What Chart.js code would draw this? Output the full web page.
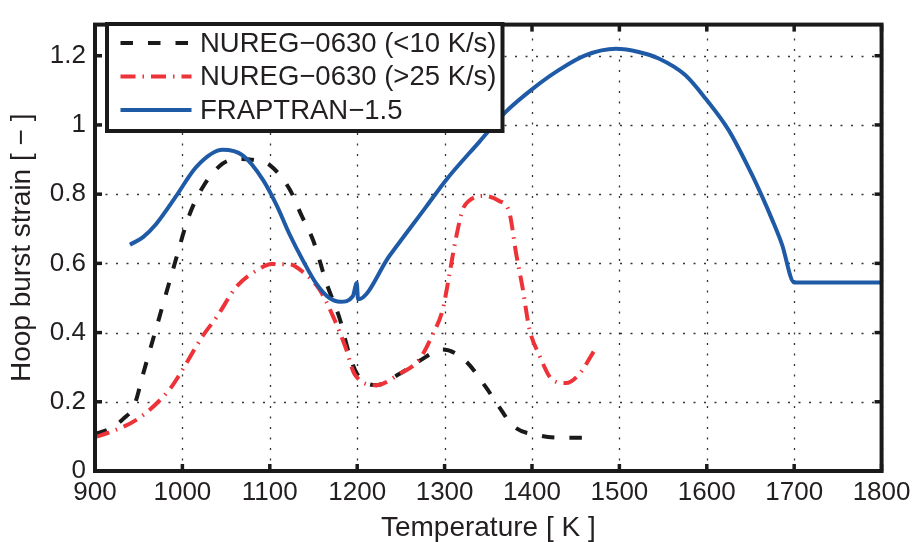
<!DOCTYPE html>
<html>
<head>
<meta charset="utf-8">
<script src="https://cdn.jsdelivr.net/npm/chart.js@4.4.1/dist/chart.umd.min.js"></script>
<style>
  html, body { margin: 0; padding: 0; background: #fff; }
  #wrap { width: 917px; height: 542px; }
</style>
</head>
<body>
<div id="wrap"><canvas id="c" width="917" height="542"></canvas></div>
<script>
// Burst strain correlations versus cladding temperature
const seriesNames = ['NUREG\u22120630 (<10 K/s)', 'NUREG\u22120630 (>25 K/s)', 'FRAPTRAN\u22121.5'];

// NUREG-0630, slow heating rate
const slowTemps  = [900, 917, 932, 945, 955, 972, 989, 1008, 1024, 1046, 1066, 1085, 1100, 1123, 1136, 1150, 1165, 1180, 1191, 1200, 1222, 1248, 1271, 1298, 1324, 1347, 1362, 1378, 1408, 1439, 1473];
const slowStrain = [0.107, 0.122, 0.15, 0.19, 0.28, 0.43, 0.58, 0.74, 0.823, 0.888, 0.902, 0.897, 0.884, 0.813, 0.74, 0.664, 0.542, 0.44, 0.337, 0.28, 0.248, 0.28, 0.318, 0.351, 0.318, 0.243, 0.187, 0.131, 0.103, 0.096, 0.096];

// NUREG-0630, fast heating rate
const fastTemps  = [900, 917, 951, 986, 997, 1024, 1039, 1062, 1088, 1102, 1123, 1138, 1157, 1172, 1187, 1197, 1222, 1248, 1271, 1286, 1298, 1305, 1313, 1321, 1328, 1344, 1362, 1374, 1382, 1389, 1397, 1408, 1424, 1439, 1454, 1473];
const fastStrain = [0.098, 0.112, 0.154, 0.238, 0.28, 0.393, 0.444, 0.533, 0.584, 0.598, 0.597, 0.575, 0.524, 0.449, 0.355, 0.28, 0.248, 0.28, 0.322, 0.393, 0.468, 0.561, 0.673, 0.757, 0.781, 0.795, 0.781, 0.748, 0.626, 0.533, 0.411, 0.337, 0.262, 0.254, 0.28, 0.355];

// FRAPTRAN-1.5 model
const frapTemps  = [940, 955, 970, 993, 1016, 1046, 1069, 1092, 1108, 1123, 1138, 1153, 1168, 1181, 1195, 1199.5, 1201, 1237, 1279, 1302, 1340, 1370, 1400, 1431, 1461, 1496, 1522, 1545, 1575, 1599, 1625, 1650, 1663, 1675, 1686, 1700, 1800];
const frapStrain = [0.654, 0.676, 0.714, 0.795, 0.879, 0.928, 0.912, 0.842, 0.767, 0.682, 0.608, 0.542, 0.5, 0.489, 0.505, 0.543, 0.496, 0.622, 0.764, 0.842, 0.952, 1.038, 1.103, 1.159, 1.201, 1.22, 1.211, 1.192, 1.145, 1.075, 0.985, 0.865, 0.795, 0.725, 0.655, 0.545, 0.545];

// Axis ticks
const xTickValues = [900, 1000, 1100, 1200, 1300, 1400, 1500, 1600, 1700, 1800];
const xTickLabels = ['900', '1000', '1100', '1200', '1300', '1400', '1500', '1600', '1700', '1800'];
const yTickValues = [0, 0.2, 0.4, 0.6, 0.8, 1.0, 1.2];
const yTickLabels = ['0', '0.2', '0.4', '0.6', '0.8', '1', '1.2'];

const toPoints = (xs, ys) => xs.map((x, i) => ({ x: x, y: ys[i] }));

const TEXT = '#231f20';
const FONT = 'Liberation Sans, Arial, Helvetica, sans-serif';

// Dotted grid, boxed frame with inward ticks, and an in-axes legend
const framePlugin = {
  id: 'framePlugin',
  beforeDatasetsDraw(chart) {
    const { ctx, chartArea: a, scales: { x, y } } = chart;
    ctx.save();
    ctx.strokeStyle = '#333';
    ctx.lineWidth = 1.3;
    ctx.setLineDash([2, 8.5]);
    x.ticks.forEach(t => {
      const px = Math.round(x.getPixelForValue(t.value)) + 0.5;
      ctx.beginPath(); ctx.moveTo(px, a.bottom); ctx.lineTo(px, a.top); ctx.stroke();
    });
    y.ticks.forEach(t => {
      const py = Math.round(y.getPixelForValue(t.value)) + 0.5;
      ctx.beginPath(); ctx.moveTo(a.left, py); ctx.lineTo(a.right, py); ctx.stroke();
    });
    ctx.restore();
  },
  afterDatasetsDraw(chart) {
    const { ctx, chartArea: a, scales: { x, y } } = chart;
    ctx.save();
    ctx.setLineDash([]);
    ctx.strokeStyle = '#1a1a1a';
    // inward tick marks
    ctx.lineWidth = 3.5;
    const tl = 7;
    x.ticks.forEach(t => {
      const px = x.getPixelForValue(t.value);
      ctx.beginPath(); ctx.moveTo(px, a.bottom); ctx.lineTo(px, a.bottom - tl); ctx.stroke();
      ctx.beginPath(); ctx.moveTo(px, a.top); ctx.lineTo(px, a.top + tl); ctx.stroke();
    });
    y.ticks.forEach(t => {
      const py = y.getPixelForValue(t.value);
      ctx.beginPath(); ctx.moveTo(a.left, py); ctx.lineTo(a.left + tl, py); ctx.stroke();
      ctx.beginPath(); ctx.moveTo(a.right, py); ctx.lineTo(a.right - tl, py); ctx.stroke();
    });
    // axes box
    ctx.lineWidth = 4;
    ctx.strokeRect(a.left, a.top, a.right - a.left, a.bottom - a.top);

    // legend
    const box = { l: 107, t: 24, r: 502.5, b: 131 };
    ctx.fillStyle = '#fff';
    ctx.fillRect(box.l, box.t, box.r - box.l, box.b - box.t);
    ctx.lineWidth = 4;
    ctx.strokeStyle = '#1a1a1a';
    ctx.strokeRect(box.l, box.t, box.r - box.l, box.b - box.t);
    const rows = [43, 76.5, 110];
    ctx.font = '27.5px ' + FONT;
    ctx.textBaseline = 'middle';
    ctx.textAlign = 'left';
    chart.data.datasets.forEach((ds, i) => {
      const yy = rows[i];
      ctx.strokeStyle = ds.borderColor;
      ctx.lineWidth = ds.borderWidth;
      ctx.setLineDash(ds.borderDash || []);
      ctx.beginPath(); ctx.moveTo(120.5, yy); ctx.lineTo(191.5, yy); ctx.stroke();
      ctx.setLineDash([]);
      ctx.fillStyle = TEXT;
      ctx.fillText(ds.label, 200, yy + 1);
    });
    ctx.restore();
  }
};

new Chart(document.getElementById('c'), {
  type: 'line',
  data: {
    datasets: [
      {
        label: seriesNames[0],
        data: toPoints(slowTemps, slowStrain),
        borderColor: '#1a1a1a',
        borderWidth: 4,
        borderDash: [12.5, 15],
        order: 3
      },
      {
        label: seriesNames[1],
        data: toPoints(fastTemps, fastStrain),
        borderColor: '#ee3338',
        borderWidth: 4,
        borderDash: [15, 7, 1.5, 7],
        order: 2
      },
      {
        label: seriesNames[2],
        data: toPoints(frapTemps, frapStrain),
        borderColor: '#1f5aa6',
        borderWidth: 4,
        order: 1
      }
    ]
  },
  options: {
    responsive: false,
    animation: false,
    devicePixelRatio: 1,
    layout: { padding: { top: 11, right: 33, left: 0, bottom: 0 } },
    elements: {
      point: { radius: 0, hoverRadius: 0 },
      line: { fill: false, cubicInterpolationMode: 'monotone', borderCapStyle: 'butt', borderJoinStyle: 'round' }
    },
    plugins: { legend: { display: false }, tooltip: { enabled: false } },
    scales: {
      x: {
        type: 'linear',
        min: 900,
        max: 1800,
        afterBuildTicks: s => { s.ticks = xTickValues.map(v => ({ value: v })); },
        afterFit: s => { s.height = 71; },
        grid: { display: false, drawTicks: false },
        border: { display: false },
        ticks: {
          padding: 6.5,
          color: TEXT,
          font: { family: FONT, size: 26, lineHeight: 1.2 },
          maxRotation: 0,
          autoSkip: false,
          callback: (v, i) => xTickLabels[i]
        },
        title: {
          display: true,
          text: 'Temperature [ K ]',
          color: TEXT,
          font: { family: FONT, size: 28, lineHeight: 1.0 },
          padding: { top: 0, bottom: 0 }
        }
      },
      y: {
        type: 'linear',
        min: 0,
        max: 1.29,
        afterBuildTicks: s => { s.ticks = yTickValues.map(v => ({ value: v })); },
        afterFit: s => { s.width = 95; },
        grid: { display: false, drawTicks: false },
        border: { display: false },
        ticks: {
          padding: 9,
          color: TEXT,
          font: { family: FONT, size: 26, lineHeight: 1.2 },
          autoSkip: false,
          callback: (v, i) => yTickLabels[i]
        },
        title: {
          display: true,
          text: 'Hoop burst strain [ \u2212 ]',
          color: TEXT,
          font: { family: FONT, size: 28, lineHeight: 1.0 },
          padding: { top: 8, bottom: 0 }
        }
      }
    }
  },
  plugins: [framePlugin]
});
</script>
</body>
</html>
